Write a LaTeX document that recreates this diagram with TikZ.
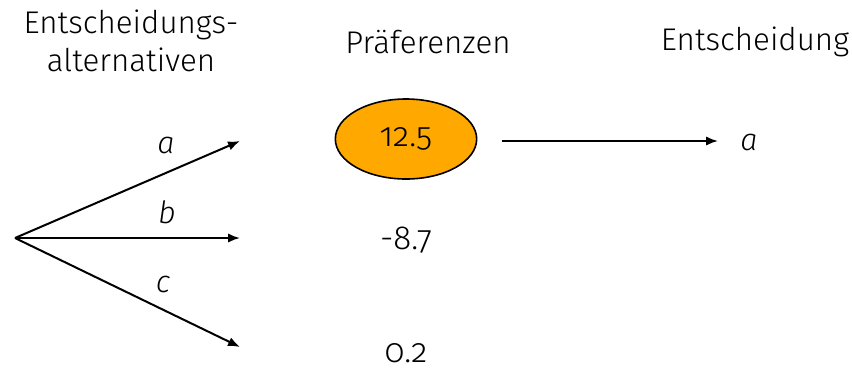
\documentclass[tikz,border=0pt]{standalone}
\usepackage{fontspec}
\setmainfont{Fira Sans Light}[Numbers=OldStyle,ItalicFont={Fira Sans Light Italic}]
\usetikzlibrary{arrows.meta,shapes.geometric}
\definecolor{prefOrange}{HTML}{FFA800}
\tikzset{
  conn/.style={line width=1.5pt,-{Latex[length=9pt,width=7pt]}},
  heading/.style={font=\fontsize{23.5}{28}\selectfont,align=center,inner sep=0pt},
  altlabel/.style={font=\fontsize{23}{26}\selectfont\itshape,inner sep=0pt},
  value/.style={font=\fontsize{25}{28}\selectfont,inner sep=0pt},
}
\begin{document}
\begin{tikzpicture}[x=0.75pt,y=-0.75pt]
  \useasboundingbox (0,0) rectangle (852,369);

  % column headings
  \node[heading] (hAlt) at (131,41) {Entscheidungs-\\alternativen};
  \node[heading] (hPref) at (428,42) {Präferenzen};
  \node[heading] (hDec) at (755,42) {Entscheidung};

  % decision fan
  \coordinate (root) at (15,238);
  \coordinate (endA) at (240,141);
  \coordinate (endB) at (240,238);
  \coordinate (endC) at (240,347);
  \draw[conn] (root) -- (endA);
  \draw[conn] (root) -- (endB);
  \draw[conn] (root) -- (endC);
  \node[altlabel] (la) at (166,145) {a};
  \node[altlabel] (lb) at (167,212) {b};
  \node[altlabel] (lc) at (163,284) {c};

  % preference values
  \node[ellipse,draw=black,line width=1.2pt,fill=prefOrange,inner sep=0pt,
        minimum width=106pt,minimum height=60pt,
        font=\fontsize{25}{28}\selectfont] (vA) at (406,139) {12.5};
  \node[value] (vB) at (406,240) {-8.7};
  \node[value,anchor=base] (vC) at (406,362) {0.2};

  % chosen alternative
  \node[altlabel] (dec) at (749,142) {a};
  \coordinate (decStart) at (502,141);
  \coordinate (decEnd) at (718,141);
  \draw[conn] (decStart) -- (decEnd);
\end{tikzpicture}
\end{document}
